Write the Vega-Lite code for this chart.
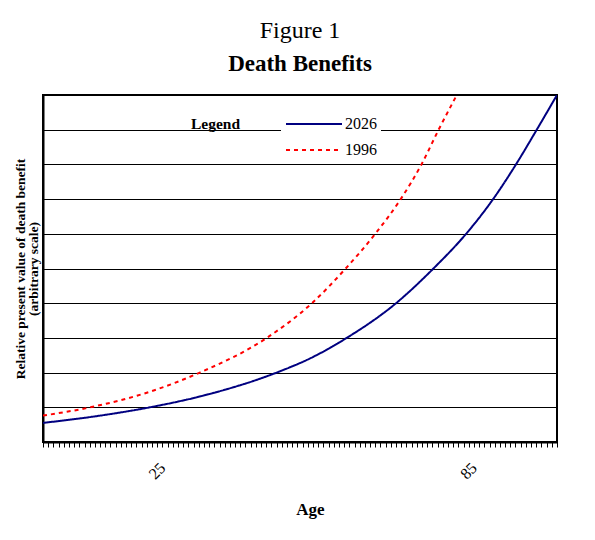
{
  "$schema": "https://vega.github.io/schema/vega-lite/v6.json",
  "width": 514,
  "height": 347,
  "autosize": {"type": "none"},
  "padding": {"left": 43, "top": 95, "right": 38, "bottom": 98},
  "background": "white",
  "title": {
    "text": "Figure 1",
    "subtitle": "Death Benefits",
    "anchor": "middle",
    "frame": "group",
    "font": "Liberation Serif",
    "fontSize": 24,
    "fontWeight": "normal",
    "color": "black",
    "subtitleFont": "Liberation Serif",
    "subtitleFontSize": 23,
    "subtitleFontWeight": "bold",
    "subtitleColor": "black",
    "subtitlePadding": 10,
    "offset": 19
  },
  "data": {
    "values": [
      {"age": 2.0, "value": 0.55, "series": "2026"},
      {"age": 13.0, "value": 0.76, "series": "2026"},
      {"age": 22.6, "value": 1.0, "series": "2026"},
      {"age": 35.0, "value": 1.42, "series": "2026"},
      {"age": 47.0, "value": 2.0, "series": "2026"},
      {"age": 54.0, "value": 2.45, "series": "2026"},
      {"age": 60.5, "value": 3.0, "series": "2026"},
      {"age": 70.0, "value": 4.0, "series": "2026"},
      {"age": 77.2, "value": 5.0, "series": "2026"},
      {"age": 83.5, "value": 6.0, "series": "2026"},
      {"age": 88.7, "value": 7.0, "series": "2026"},
      {"age": 93.1, "value": 8.0, "series": "2026"},
      {"age": 97.1, "value": 9.0, "series": "2026"},
      {"age": 101.0, "value": 10.0, "series": "2026"},
      {"age": 2.0, "value": 0.76, "series": "1996"},
      {"age": 11.1, "value": 1.0, "series": "1996"},
      {"age": 22.6, "value": 1.45, "series": "1996"},
      {"age": 32.2, "value": 2.0, "series": "1996"},
      {"age": 45.1, "value": 3.0, "series": "1996"},
      {"age": 53.8, "value": 4.0, "series": "1996"},
      {"age": 60.3, "value": 5.0, "series": "1996"},
      {"age": 66.0, "value": 6.0, "series": "1996"},
      {"age": 70.9, "value": 7.0, "series": "1996"},
      {"age": 74.9, "value": 8.0, "series": "1996"},
      {"age": 78.2, "value": 9.0, "series": "1996"},
      {"age": 81.7, "value": 10.0, "series": "1996"}
    ]
  },
  "mark": {"type": "line", "strokeWidth": 2, "interpolate": "monotone", "clip": true},
  "encoding": {
    "x": {
      "field": "age",
      "type": "quantitative",
      "scale": {"domain": [2, 101], "nice": false, "zero": false},
      "axis": {
        "title": "Age",
        "titleFont": "Liberation Serif",
        "titleFontSize": 17,
        "titleFontWeight": "bold",
        "titleColor": "black",
        "titlePadding": 20,
        "titleX": 267,
        "grid": false,
        "tickCount": 100,
        "tickColor": "black",
        "tickSize": 5,
        "tickWidth": 1,
        "domainColor": "black",
        "domainWidth": 2,
        "labelExpr": "datum.value == 25 || datum.value == 85 ? datum.label : ''",
        "labelAngle": 315,
        "labelAlign": "right",
        "labelBaseline": "middle",
        "labelPadding": 18,
        "labelFont": "Liberation Serif",
        "labelFontSize": 16,
        "labelColor": "black",
        "labelOverlap": false
      }
    },
    "y": {
      "field": "value",
      "type": "quantitative",
      "scale": {"domain": [0, 10], "nice": false},
      "axis": {
        "title": ["Relative present value of death benefit", "(arbitrary scale)"],
        "titleFont": "Liberation Serif",
        "titleFontSize": 13.5,
        "titleFontWeight": "bold",
        "titleColor": "black",
        "titlePadding": 3,
        "titleLineHeight": 13,
        "values": [0, 1, 2, 3, 4, 5, 6, 7, 8, 9, 10],
        "labels": false,
        "ticks": false,
        "grid": true,
        "gridColor": "black",
        "gridOpacity": 1,
        "gridWidth": 1,
        "domainColor": "black",
        "domainWidth": 2
      }
    },
    "color": {
      "field": "series",
      "type": "nominal",
      "scale": {"domain": ["2026", "1996"], "range": ["#000080", "#FF0000"]},
      "legend": {
        "title": null,
        "orient": "none",
        "legendX": 238,
        "legendY": 17,
        "fillColor": "white",
        "padding": 4,
        "symbolType": "M-1,0H7",
        "symbolSize": 196,
        "symbolStrokeWidth": 2,
        "labelFont": "Liberation Serif",
        "labelFontSize": 16,
        "labelColor": "black",
        "labelOffset": 44,
        "rowPadding": 10,
        "encode": {
          "symbols": {
            "update": {
              "strokeDash": {"signal": "datum.value === '1996' ? [4, 4] : [1, 0]"}
            }
          }
        }
      }
    },
    "strokeDash": {
      "field": "series",
      "type": "nominal",
      "scale": {"domain": ["1996", "2026"], "range": [[4, 4], [1, 0]]},
      "legend": {
        "title": "Legend",
        "orient": "none",
        "legendX": 148,
        "legendY": 22,
        "padding": 0,
        "titleFont": "Liberation Serif",
        "titleFontSize": 15.5,
        "titleFontWeight": "bold",
        "titleColor": "black",
        "symbolOpacity": 0,
        "symbolStrokeWidth": 0,
        "labelOpacity": 0
      }
    }
  },
  "config": {
    "view": {"stroke": "black", "strokeWidth": 2}
  }
}
